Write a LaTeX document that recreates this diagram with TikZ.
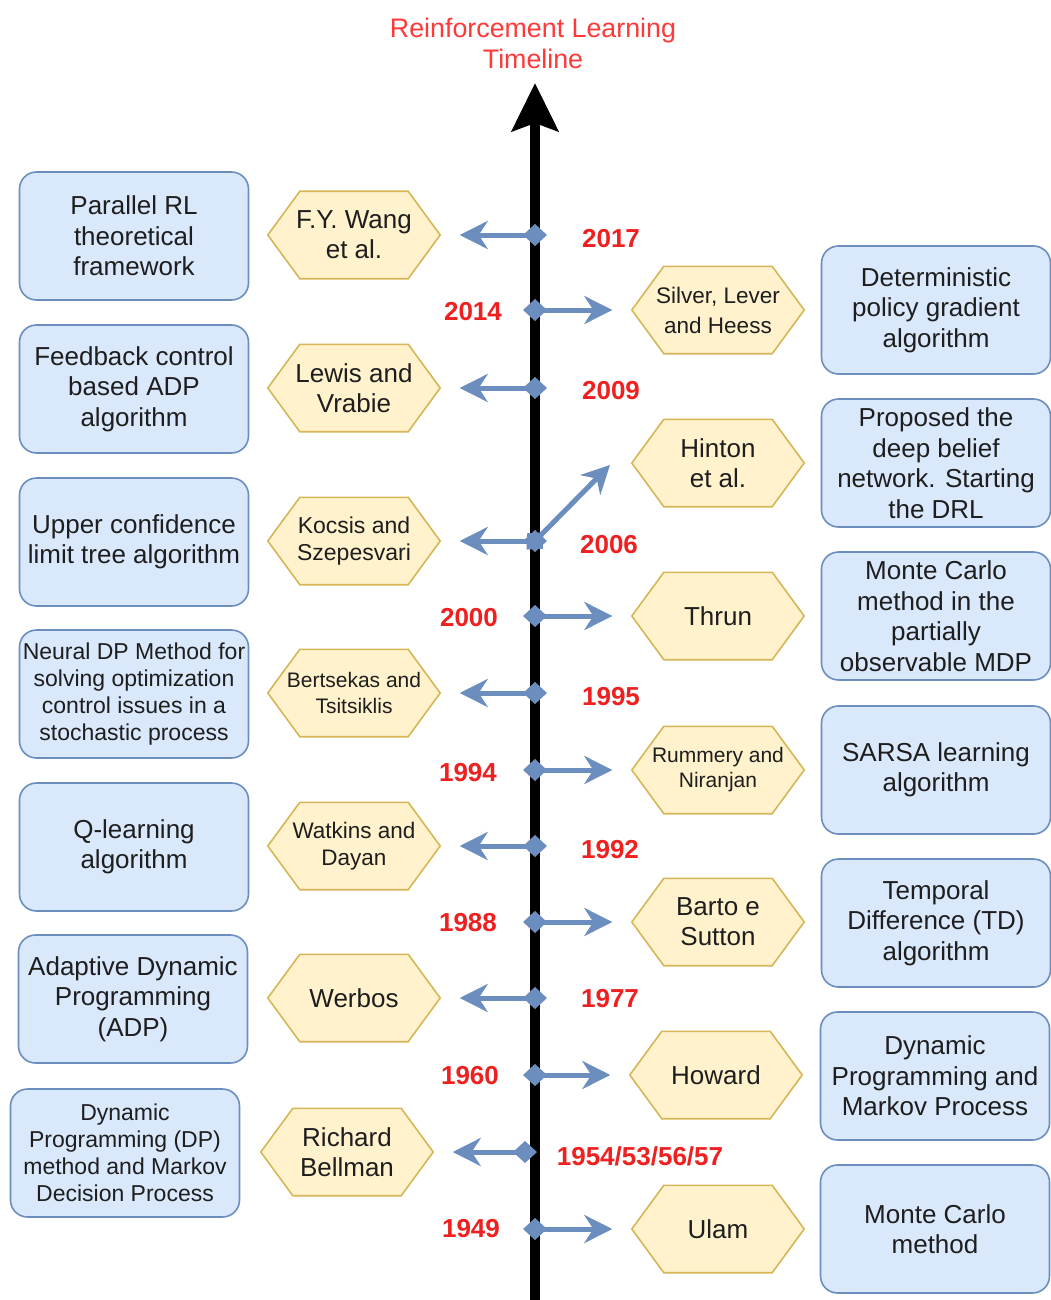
\documentclass[tikz,border=0pt]{standalone}
\usepackage{fontspec}
\setmainfont{Liberation Sans}
\usetikzlibrary{arrows.meta,calc}
\pgfdeclarelayer{background}
\pgfsetlayers{background,main}

\definecolor{boxfill}{HTML}{DAE8FC}
\definecolor{boxline}{HTML}{6C8EBF}
\definecolor{hexfill}{HTML}{FFF2CC}
\definecolor{hexline}{HTML}{D6B656}
\definecolor{yearred}{HTML}{EE2020}
\definecolor{titlered}{HTML}{FF3838}
\definecolor{linkblue}{HTML}{6C8EBF}
\definecolor{inktext}{HTML}{1E1E1E}

\tikzset{
  % a taller first line lowers a multi-line text block inside its shape
  drop/.style={execute at begin node={\rule{0pt}{#1}}},
  event/.style={draw=boxline, fill=boxfill, line width=1.6pt, rounded corners=17pt,
    minimum width=229pt, minimum height=128pt, inner sep=0pt, align=center,
    text=inktext, font=\fontsize{26}{30.5}\selectfont, drop=24pt},
  eventsmall/.style={event, font=\fontsize{23}{27}\selectfont, drop=22pt},
  hexbox/.style={minimum width=172pt, minimum height=87pt, inner sep=0pt,
    align=center, text=inktext, font=\fontsize{26}{30}\selectfont},
  hexedge/.style={draw=hexline, fill=hexfill, line width=1.6pt, line join=miter},
  year/.style={text=yearred, font=\bfseries\fontsize{26}{30}\selectfont, inner sep=0pt},
  link/.style={draw=linkblue, line width=5pt,
    {Diamond[length=24pt,width=22pt]}-{Stealth[length=28pt,width=28pt,inset=9pt]},
    shorten <=-12pt, shorten >=19.5pt},
  timeaxis/.style={line width=10pt, -{Stealth[length=48pt,width=46pt,inset=8pt]}},
}

% hexagon: a sized text node with its outline drawn on the layer behind it
\newcommand\hexnode[4][]{%
  \node[hexbox,#1] (#2) at (#3) {#4};
  \begin{pgfonlayer}{background}
    \draw[hexedge] (#2.west) -- ($(#2.north west)+(32,0)$) -- ($(#2.north east)+(-32,0)$)
      -- (#2.east) -- ($(#2.south east)+(-32,0)$) -- ($(#2.south west)+(32,0)$) -- cycle;
  \end{pgfonlayer}}

\begin{document}
\begin{tikzpicture}[x=1pt,y=-1pt]
\useasboundingbox (0,0) rectangle (1051,1300);
\begin{pgfonlayer}{background}
  \fill[white] (0,0) rectangle (1051,1300);
\end{pgfonlayer}

% title
\node[text=titlered, align=center, font=\fontsize{26.8}{31}\selectfont] (title) at (533,43)
  {Reinforcement Learning\\Timeline};

% time axis
\coordinate (axbot) at (535,1300);
\coordinate (axtop) at (535,83);
\draw[timeaxis] (axbot) -- (axtop);

% points on the axis
\coordinate (a2017) at (535,235);
\coordinate (a2014) at (535,310);
\coordinate (a2009) at (535,388);
\coordinate (a2006) at (535,541);
\coordinate (a2000) at (535,616);
\coordinate (a1995) at (535,693);
\coordinate (a1994) at (535,770);
\coordinate (a1992) at (535,846);
\coordinate (a1988) at (535,922);
\coordinate (a1977) at (535,998);
\coordinate (a1960) at (535,1075);
\coordinate (a1954) at (525,1152);
\coordinate (a1949) at (535,1229);
\coordinate (hintip) at (610,465);

% contributions (left column)
\node[event] (lb1) at (134,236) {Parallel RL\\theoretical\\framework};
\node[event] (lb2) at (134,389) {Feedback control\\based ADP\\algorithm};
\node[event] (lb3) at (134,542) {Upper confidence\\limit tree algorithm};
\node[eventsmall] (lb4) at (134,694) {Neural DP Method for\\solving optimization\\control issues in a\\stochastic process};
\node[event] (lb5) at (134,847) {Q-learning\\algorithm};
\node[event] (lb6) at (133,999) {Adaptive Dynamic\\Programming\\(ADP)};
\node[eventsmall] (lb7) at (125,1153) {Dynamic\\Programming (DP)\\method and Markov\\Decision Process};

% contributions (right column)
\node[event] (rb1) at (936,310) {Deterministic\\policy gradient\\algorithm};
\node[event] (rb2) at (936,463) {Proposed the\\deep belief\\network. Starting\\the DRL};
\node[event] (rb3) at (936,616) {Monte Carlo\\method in the\\partially\\observable MDP};
\node[event] (rb4) at (936,770) {SARSA learning\\algorithm};
\node[event] (rb5) at (936,923) {Temporal\\Difference (TD)\\algorithm};
\node[event] (rb6) at (935,1076) {Dynamic\\Programming and\\Markov Process};
\node[event] (rb7) at (935,1229) {Monte Carlo\\method};

% authors (left)
\hexnode[drop=27pt]{wang}{354,235}{F.Y. Wang\\et al.}
\hexnode[drop=27pt]{lewis}{354,388}{Lewis and\\Vrabie}
\hexnode[font=\fontsize{23}{27}\selectfont, drop=26pt]{kocsis}{354,541}{Kocsis and\\Szepesvari}
\hexnode[font=\fontsize{21}{26}\selectfont, drop=24pt]{bertsekas}{354,693}{Bertsekas and\\Tsitsiklis}
\hexnode[font=\fontsize{22.5}{27}\selectfont, drop=26pt]{watkins}{354,846}{Watkins and\\Dayan}
\hexnode{werbos}{354,998}{Werbos}
\hexnode[drop=27pt]{bellman}{347,1152}{Richard\\Bellman}

% authors (right)
\hexnode[font=\fontsize{22.5}{30}\selectfont, drop=24pt]{silver}{718,310}{Silver, Lever\\and Heess}
\hexnode[drop=27pt]{hinton}{718,463}{Hinton\\et al.}
\hexnode{thrun}{718,616}{Thrun}
\hexnode[font=\fontsize{21}{25}\selectfont, drop=25pt]{rummery}{718,770}{Rummery and\\Niranjan}
\hexnode[drop=26pt]{barto}{718,922}{Barto e\\Sutton}
\hexnode{howard}{716,1075}{Howard}
\hexnode{ulam}{718,1229}{Ulam}

% links from the axis
\draw[link] (a2017) -- (wang.east);
\draw[link] (a2014) -- (silver.west);
\draw[link] (a2009) -- (lewis.east);
\draw[link] (a2006) -- (kocsis.east);
\draw[link, shorten >=0pt] (a2006) -- (hintip);
\draw[link] (a2000) -- (thrun.west);
\draw[link] (a1995) -- (bertsekas.east);
\draw[link] (a1994) -- (rummery.west);
\draw[link] (a1992) -- (watkins.east);
\draw[link] (a1988) -- (barto.west);
\draw[link] (a1977) -- (werbos.east);
\draw[link] (a1960) -- (howard.west);
\draw[link] (a1954) -- (bellman.east);
\draw[link] (a1949) -- (ulam.west);

% years
\node[year] (y2017) at (611,239) {2017};
\node[year] (y2014) at (473,312) {2014};
\node[year] (y2009) at (611,391) {2009};
\node[year] (y2006) at (609,545) {2006};
\node[year] (y2000) at (469,618) {2000};
\node[year] (y1995) at (611,697) {1995};
\node[year] (y1994) at (468,773) {1994};
\node[year] (y1992) at (610,850) {1992};
\node[year] (y1988) at (468,923) {1988};
\node[year] (y1977) at (610,999) {1977};
\node[year] (y1960) at (470,1076) {1960};
\node[year] (y1954) at (640,1156) {1954/53/56/57};
\node[year] (y1949) at (471,1229) {1949};
\end{tikzpicture}
\end{document}
